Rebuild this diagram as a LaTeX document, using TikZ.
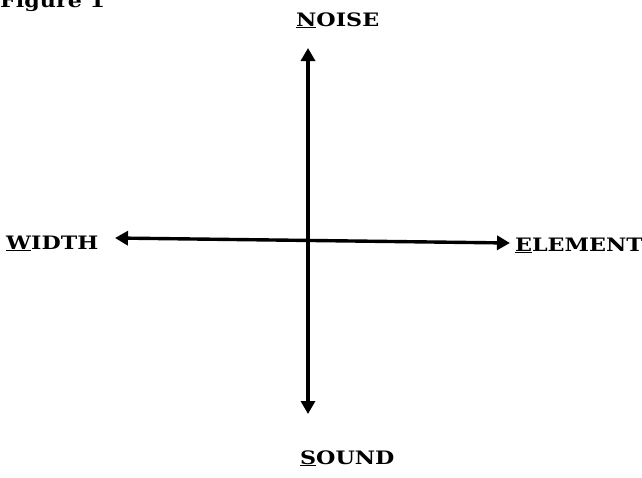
\documentclass[tikz,border=0pt]{standalone}
\usepackage{fontspec}
\setmainfont[FakeStretch=1.2]{DejaVu Serif}
\usetikzlibrary{arrows.meta}
\newcommand{\ul}[1]{\underline{#1}}
\begin{document}
\begin{tikzpicture}[x=1pt,y=-1pt,
  lbl/.style={font=\bfseries\fontsize{18.5}{21}\selectfont, inner sep=0pt, anchor=base west},
  axis/.style={line width=3.4pt, {Triangle[length=13pt,width=14pt]}-{Triangle[length=13pt,width=14pt]}}]
\useasboundingbox (0,0) rectangle (642,477);
\node[lbl] (fig) at (0,7) {Figure 1};
\node[lbl] (noise) at (296,26) {\ul{N}OISE};
\node[lbl] (width) at (6,249) {\ul{W}IDTH};
\node[lbl] (elem) at (515,251) {\ul{E}LEMENT};
\node[lbl] (sound) at (300,464) {\ul{S}OUND};
\coordinate (top) at (308,48);
\coordinate (bot) at (308,414);
\coordinate (lft) at (115,238);
\coordinate (rgt) at (510,243);
\draw[axis] (top) -- (bot);
\draw[axis] (lft) -- (rgt);
\end{tikzpicture}
\end{document}
